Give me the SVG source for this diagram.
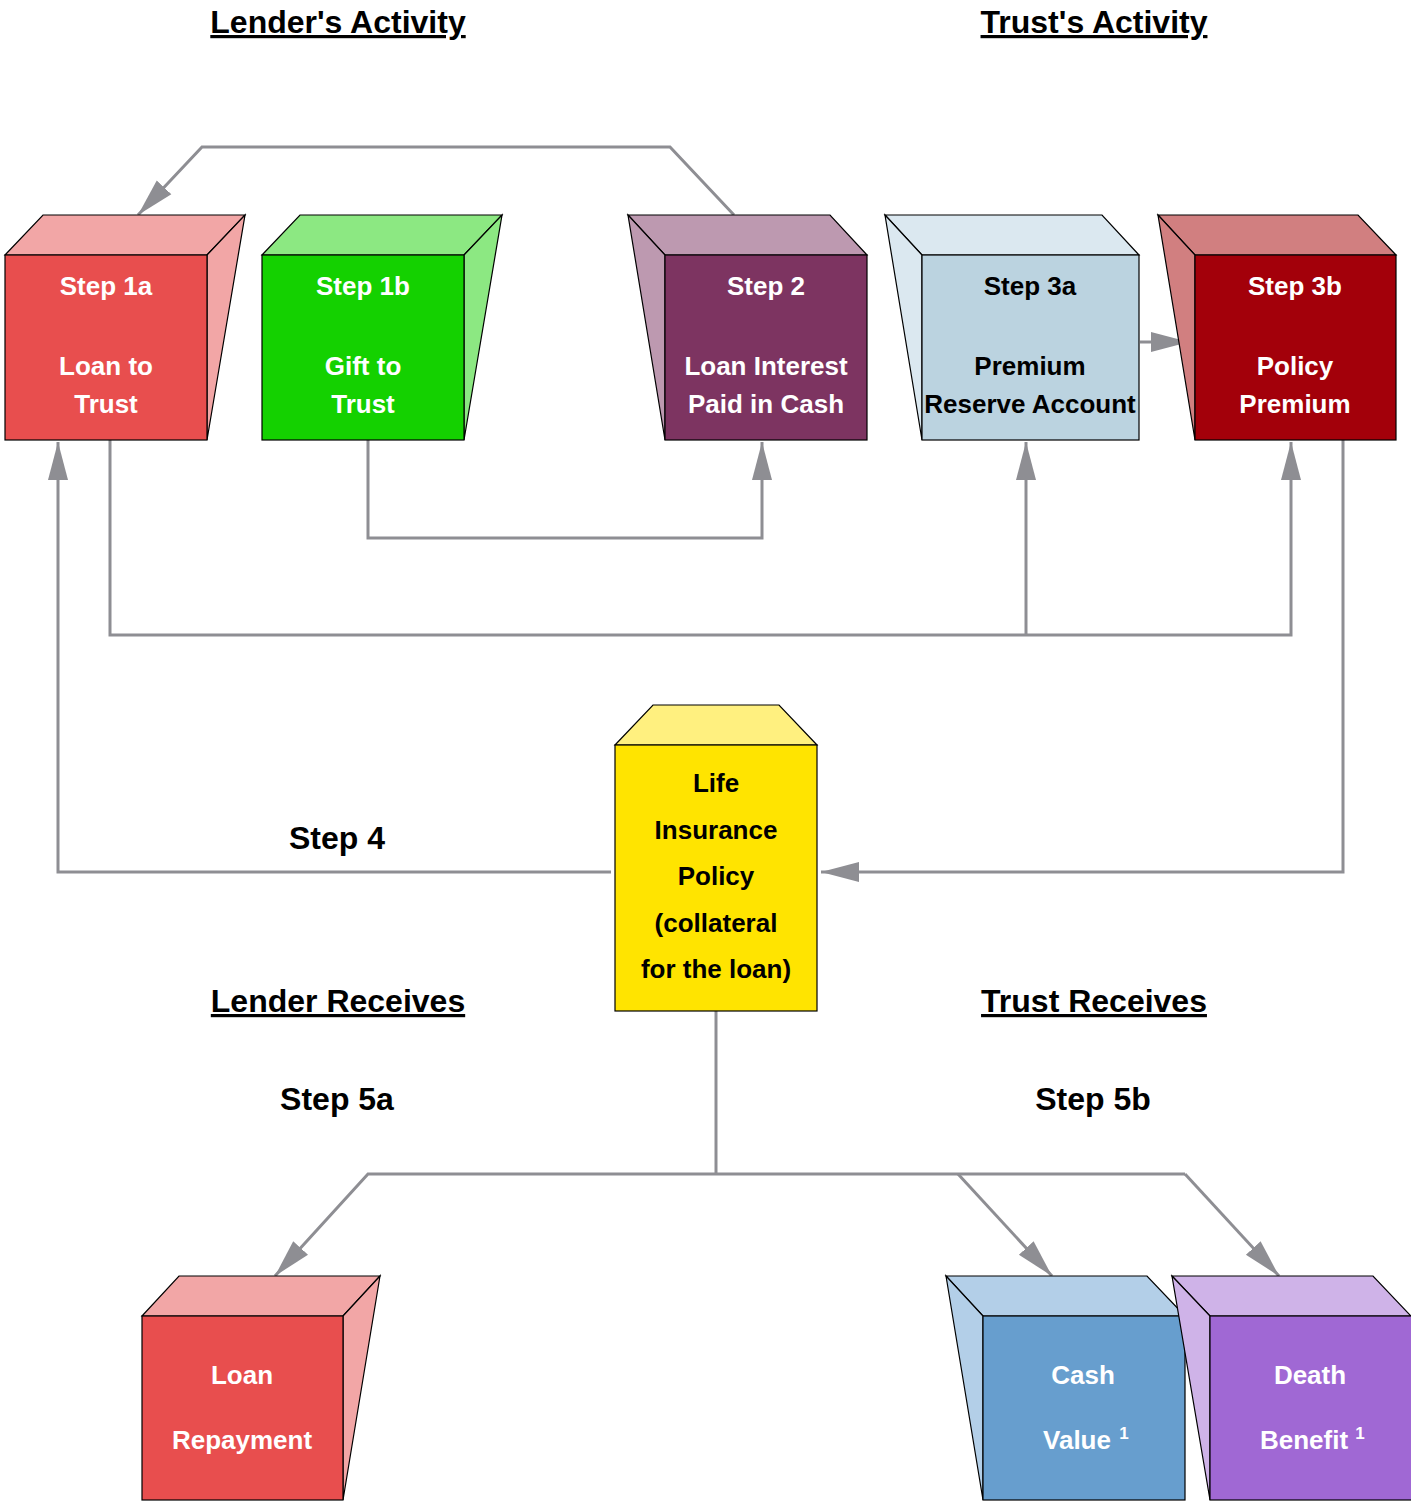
<svg xmlns="http://www.w3.org/2000/svg" width="1411" height="1503" viewBox="0 0 1411 1503">
<style>
text{font-family:"Liberation Sans",Arial,sans-serif;font-weight:bold;text-anchor:middle}
.t{font-size:26px}
.w{fill:#ffffff}
.k{fill:#000000}
.h{font-size:32px;text-decoration:underline}
.l{font-size:32px}
.e{stroke:#000;stroke-width:1.2;stroke-linejoin:miter}
.c{fill:none;stroke:#8e8e93;stroke-width:3}
.s{font-size:17px}
</style>
<defs>
<marker id="ah" markerUnits="userSpaceOnUse" markerWidth="40" markerHeight="24" viewBox="-38 -12 40 24" refX="0" refY="0" orient="auto">
<path d="M0,0 L-38,-10 L-38,10 Z" fill="#8e8e93"/>
</marker>
</defs>
<rect width="1411" height="1503" fill="#ffffff"/>

<g id="titles">
<text class="h" x="338" y="33">Lender's Activity</text>
<text class="h" x="1094" y="33">Trust's Activity</text>
<text class="h" x="338" y="1012">Lender Receives</text>
<text class="h" x="1094" y="1012">Trust Receives</text>
<text class="l" x="337" y="849">Step 4</text>
<text class="l" x="337" y="1110">Step 5a</text>
<text class="l" x="1093" y="1110">Step 5b</text>
</g>

<g id="connectors">
<path class="c" d="M734,215 L670,147 L202,147 L138,215" marker-end="url(#ah)"/>
<path class="c" d="M368,440 L368,538 L762,538 L762,442" marker-end="url(#ah)"/>
<path class="c" d="M110,440 L110,635 L1291,635 L1291,442" marker-end="url(#ah)"/>
<path class="c" d="M1026,635 L1026,442" marker-end="url(#ah)"/>
<path class="c" d="M1343,440 L1343,872 L821,872" marker-end="url(#ah)"/>
<path class="c" d="M611,872 L58,872 L58,442" marker-end="url(#ah)"/>
<path class="c" d="M1140,342 L1189,342" marker-end="url(#ah)"/>
<path class="c" d="M716,1011 L716,1174"/>
<path class="c" d="M1185,1174 L368,1174 L275,1276" marker-end="url(#ah)"/>
<path class="c" d="M958,1174 L1052,1276" marker-end="url(#ah)"/>
<path class="c" d="M1185,1174 L1279,1276" marker-end="url(#ah)"/>
</g>

<g id="step1a">
<polygon class="e" points="5,255 43,215 245,215 207,255" fill="#f2a6a6"/>
<polygon class="e" points="207,255 245,215 207,440" fill="#f2a6a6"/>
<rect class="e" x="5" y="255" width="202" height="185" fill="#e84e4e"/>
<text class="t w" x="106" y="295">Step 1a</text>
<text class="t w" x="106" y="375">Loan to</text>
<text class="t w" x="106" y="413">Trust</text>
</g>

<g id="step1b">
<polygon class="e" points="262,255 300,215 502,215 464,255" fill="#8ce882"/>
<polygon class="e" points="464,255 502,215 464,440" fill="#8ce882"/>
<rect class="e" x="262" y="255" width="202" height="185" fill="#14d100"/>
<text class="t w" x="363" y="295">Step 1b</text>
<text class="t w" x="363" y="375">Gift to</text>
<text class="t w" x="363" y="413">Trust</text>
</g>

<g id="step2">
<polygon class="e" points="628,215 830,215 867,255 665,255" fill="#bd99b0"/>
<polygon class="e" points="628,215 665,255 665,440" fill="#bd99b0"/>
<rect class="e" x="665" y="255" width="202" height="185" fill="#7d3461"/>
<text class="t w" x="766" y="295">Step 2</text>
<text class="t w" x="766" y="375">Loan Interest</text>
<text class="t w" x="766" y="413">Paid in Cash</text>
</g>

<g id="step3a">
<polygon class="e" points="885,215 1102,215 1139,255 922,255" fill="#dbe8f0"/>
<polygon class="e" points="885,215 922,255 922,440" fill="#dbe8f0"/>
<rect class="e" x="922" y="255" width="217" height="185" fill="#bbd3e0"/>
<text class="t k" x="1030" y="295">Step 3a</text>
<text class="t k" x="1030" y="375">Premium</text>
<text class="t k" x="1030" y="413">Reserve Account</text>
</g>

<g id="step3b">
<polygon class="e" points="1158,215 1358,215 1396,255 1195,255" fill="#d17f80"/>
<polygon class="e" points="1158,215 1195,255 1195,440" fill="#d17f80"/>
<rect class="e" x="1195" y="255" width="201" height="185" fill="#a3000a"/>
<text class="t w" x="1295" y="295">Step 3b</text>
<text class="t w" x="1295" y="375">Policy</text>
<text class="t w" x="1295" y="413">Premium</text>
</g>

<g id="policy">
<polygon class="e" points="615,745 653,705 779,705 817,745" fill="#fff07f"/>
<rect class="e" x="615" y="745" width="202" height="266" fill="#ffe400"/>
<text class="t k" x="716" y="792">Life</text>
<text class="t k" x="716" y="839">Insurance</text>
<text class="t k" x="716" y="885">Policy</text>
<text class="t k" x="716" y="932">(collateral</text>
<text class="t k" x="716" y="978">for the loan)</text>
</g>

<g id="repayment">
<polygon class="e" points="142,1316 179,1276 380,1276 343,1316" fill="#f2a6a6"/>
<polygon class="e" points="343,1316 380,1276 343,1500" fill="#f2a6a6"/>
<rect class="e" x="142" y="1316" width="201" height="184" fill="#e84e4e"/>
<text class="t w" x="242" y="1384">Loan</text>
<text class="t w" x="242" y="1449">Repayment</text>
</g>

<g id="cashvalue">
<polygon class="e" points="946,1276 1147,1276 1185,1316 983,1316" fill="#b3cfe8"/>
<polygon class="e" points="946,1276 983,1316 983,1500" fill="#b3cfe8"/>
<rect class="e" x="983" y="1316" width="202" height="184" fill="#679ece"/>
<text class="t w" x="1083" y="1384">Cash</text>
<text class="t w" x="1077" y="1449">Value</text>
<text class="s w" x="1124" y="1439">1</text>
</g>

<g id="deathbenefit">
<polygon class="e" points="1172,1276 1373,1276 1411,1316 1210,1316" fill="#cfb3e8"/>
<polygon class="e" points="1172,1276 1210,1316 1210,1500" fill="#cfb3e8"/>
<rect class="e" x="1210" y="1316" width="202" height="184" fill="#a068d4"/>
<text class="t w" x="1310" y="1384">Death</text>
<text class="t w" x="1304" y="1449">Benefit</text>
<text class="s w" x="1360" y="1439">1</text>
</g>
</svg>
